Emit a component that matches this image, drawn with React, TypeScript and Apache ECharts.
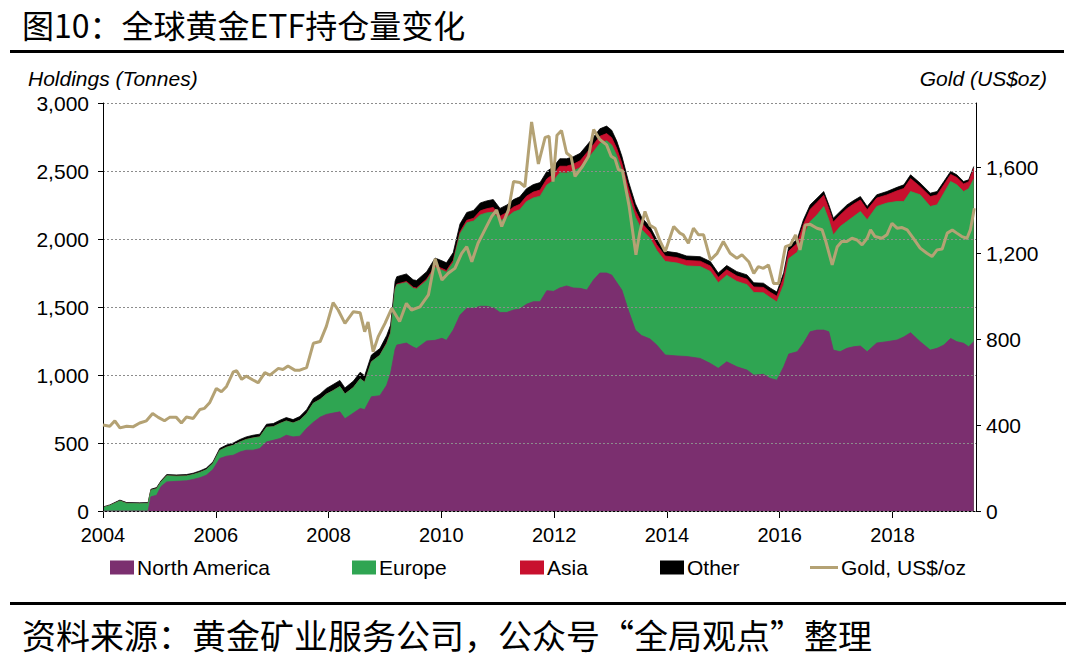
import React, { useEffect, useRef } from "react";
import * as echarts from "echarts";

// Stacked holdings (tonnes), sampled along decimal years
const years = [
  2004.00, 2004.12, 2004.30, 2004.42, 2004.65, 2004.80, 2004.85, 2004.95, 2005.03, 2005.13,
  2005.30, 2005.48, 2005.60, 2005.72, 2005.83, 2005.95, 2006.07, 2006.19, 2006.31, 2006.43,
  2006.54, 2006.66, 2006.78, 2006.90, 2007.02, 2007.14, 2007.25, 2007.37, 2007.49, 2007.61,
  2007.73, 2007.85, 2007.96, 2008.08, 2008.20, 2008.29, 2008.44, 2008.56, 2008.64, 2008.76,
  2008.91, 2009.03, 2009.10, 2009.18, 2009.21, 2009.38, 2009.50, 2009.56, 2009.74, 2009.89,
  2010.01, 2010.09, 2010.21, 2010.33, 2010.45, 2010.57, 2010.69, 2010.80, 2010.92, 2011.04,
  2011.16, 2011.28, 2011.39, 2011.51, 2011.63, 2011.75, 2011.87, 2011.99, 2012.10, 2012.22,
  2012.34, 2012.46, 2012.58, 2012.70, 2012.81, 2012.93, 2013.02, 2013.11, 2013.20, 2013.32,
  2013.44, 2013.55, 2013.70, 2013.82, 2013.97, 2014.18, 2014.35, 2014.59, 2014.77, 2014.91,
  2015.06, 2015.24, 2015.42, 2015.54, 2015.71, 2015.83, 2015.95, 2016.07, 2016.16, 2016.31,
  2016.42, 2016.54, 2016.66, 2016.78, 2016.87, 2016.95, 2017.07, 2017.19, 2017.31, 2017.43,
  2017.55, 2017.72, 2017.90, 2018.08, 2018.20, 2018.32, 2018.49, 2018.67, 2018.79, 2018.91,
  2019.03, 2019.14, 2019.26, 2019.35, 2019.44,
];

const northAmerica = [
  0, 0, 0, 0, 0, 0, 105, 115, 180, 214,
  218, 222, 232, 245, 262, 305, 386, 403, 410, 434,
  447, 447, 459, 508, 520, 533, 557, 545, 550, 607,
  652, 690, 710, 720, 729, 678, 720, 754, 746, 840,
  848, 925, 1012, 1190, 1220, 1235, 1205, 1195, 1250, 1255,
  1270, 1255, 1330, 1440, 1490, 1490, 1505, 1505, 1495, 1460,
  1460, 1478, 1485, 1520, 1539, 1539, 1620, 1615, 1640, 1655,
  1640, 1637, 1625, 1700, 1750, 1750, 1735, 1680, 1625, 1470,
  1330, 1290, 1265, 1220, 1147, 1140, 1136, 1122, 1085, 1049,
  1097, 1060, 1036, 999, 1005, 975, 962, 1060, 1154, 1171,
  1233, 1318, 1330, 1330, 1318, 1183, 1171, 1196, 1208, 1213,
  1171, 1235, 1245, 1257, 1280, 1311, 1245, 1183, 1196, 1220,
  1269, 1245, 1233, 1208, 1245,
];

const europe = [
  25, 40, 74, 56, 54, 56, 48, 49, 34, 45,
  38, 36, 36, 39, 41, 44, 59, 66, 73, 74,
  79, 90, 86, 108, 100, 111, 105, 102, 117, 108,
  141, 130, 149, 165, 186, 182, 188, 218, 201, 257,
  297, 305, 295, 440, 443, 445, 432, 437, 445, 536,
  501, 500, 498, 597, 629, 642, 672, 687, 702, 673,
  699, 720, 730, 755, 763, 776, 777, 816, 847, 830,
  860, 888, 958, 943, 952, 972, 957, 932, 880, 848,
  830, 780, 740, 695, 688, 683, 666, 675, 676, 629,
  636, 628, 628, 608, 599, 594, 575, 605, 702, 732,
  788, 810, 847, 909, 823, 847, 920, 932, 957, 989,
  970, 1004, 1019, 1019, 996, 1038, 1080, 1056, 1055, 1117,
  1154, 1153, 1116, 1162, 1195,
];

const asia = [
  0, 0, 0, 0, 0, 0, 0, 0, 0, 0,
  0, 0, 0, 0, 0, 0, 0, 0, 0, 0,
  0, 0, 0, 0, 0, 0, 0, 0, 0, 0,
  0, 0, 0, 0, 0, 0, 0, 0, 0, 0,
  0, 5, 5, 5, 5, 8, 8, 8, 10, 12,
  12, 13, 14, 15, 18, 20, 30, 30, 35, 35,
  35, 37, 40, 40, 43, 45, 45, 47, 48, 50,
  50, 50, 52, 52, 53, 53, 53, 53, 52, 50,
  50, 48, 45, 42, 40, 40, 40, 40, 40, 40,
  40, 40, 40, 40, 40, 40, 42, 55, 55, 65,
  85, 90, 92, 82, 82, 95, 85, 95, 92, 85,
  74, 62, 60, 78, 95, 95, 60, 73, 73, 62,
  52, 54, 56, 50, 80,
];

const other = [
  5, 5, 6, 6, 6, 6, 7, 8, 8, 9,
  9, 10, 10, 11, 12, 12, 15, 16, 17, 18,
  19, 20, 20, 22, 23, 24, 25, 25, 28, 30,
  35, 40, 42, 45, 45, 45, 47, 48, 48, 50,
  50, 55, 55, 55, 55, 55, 55, 55, 55, 57,
  57, 57, 58, 58, 58, 58, 58, 58, 58, 57,
  56, 55, 55, 55, 55, 55, 55, 55, 55, 55,
  55, 55, 55, 55, 55, 55, 55, 55, 53, 52,
  50, 42, 40, 38, 35, 35, 33, 33, 33, 32,
  32, 32, 32, 31, 31, 31, 31, 32, 33, 30,
  35, 33, 31, 28, 28, 28, 26, 27, 26, 25,
  24, 24, 25, 26, 27, 28, 26, 25, 25, 24,
  22, 20, 18, 15, 13,
];

// Gold price (US$/oz), right axis
const goldYears = [
  2004.00, 2004.12, 2004.21, 2004.30, 2004.42, 2004.53, 2004.65, 2004.77, 2004.88, 2004.98,
  2005.09, 2005.18, 2005.30, 2005.39, 2005.48, 2005.60, 2005.72, 2005.80, 2005.89, 2006.01,
  2006.10, 2006.19, 2006.31, 2006.37, 2006.46, 2006.54, 2006.66, 2006.75, 2006.87, 2006.96,
  2007.11, 2007.19, 2007.28, 2007.40, 2007.49, 2007.61, 2007.73, 2007.85, 2007.96, 2008.08,
  2008.17, 2008.29, 2008.44, 2008.56, 2008.64, 2008.70, 2008.79, 2008.88, 2009.00, 2009.12,
  2009.26, 2009.38, 2009.47, 2009.62, 2009.77, 2009.89, 2010.01, 2010.12, 2010.24, 2010.36,
  2010.45, 2010.54, 2010.65, 2010.77, 2010.89, 2010.98, 2011.07, 2011.19, 2011.28, 2011.39,
  2011.48, 2011.60, 2011.72, 2011.84, 2011.91, 2011.98, 2012.05, 2012.13, 2012.22, 2012.30,
  2012.37, 2012.49, 2012.61, 2012.70, 2012.81, 2012.93, 2013.01, 2013.08, 2013.14, 2013.21,
  2013.33, 2013.45, 2013.52, 2013.61, 2013.70, 2013.79, 2013.88, 2013.97, 2014.12, 2014.23,
  2014.29, 2014.38, 2014.47, 2014.56, 2014.65, 2014.77, 2014.89, 2015.00, 2015.12, 2015.24,
  2015.33, 2015.45, 2015.54, 2015.62, 2015.71, 2015.80, 2015.89, 2015.98, 2016.10, 2016.19,
  2016.28, 2016.36, 2016.45, 2016.54, 2016.66, 2016.75, 2016.81, 2016.93, 2017.02, 2017.10,
  2017.19, 2017.28, 2017.37, 2017.46, 2017.55, 2017.61, 2017.69, 2017.81, 2017.90, 2017.99,
  2018.08, 2018.17, 2018.26, 2018.37, 2018.49, 2018.61, 2018.70, 2018.79, 2018.88, 2018.97,
  2019.06, 2019.14, 2019.23, 2019.32, 2019.38, 2019.45,
];

const goldPrice = [
  400, 395, 420, 387, 395, 392, 410, 420, 454, 436,
  420, 436, 436, 410, 438, 431, 473, 478, 504, 571,
  555, 580, 648, 653, 613, 628, 610, 597, 644, 633,
  664, 659, 675, 656, 656, 668, 781, 789, 860, 970,
  936, 874, 928, 923, 835, 880, 742, 812, 874, 944,
  882, 967, 936, 951, 1006, 1175, 1076, 1107, 1130, 1200,
  1231, 1161, 1247, 1309, 1371, 1402, 1325, 1402, 1534, 1530,
  1510, 1812, 1616, 1740, 1745, 1534, 1750, 1772, 1667, 1650,
  1558, 1600, 1652, 1776, 1730, 1705, 1652, 1640, 1589, 1585,
  1418, 1193, 1300, 1395, 1330, 1317, 1255, 1208, 1325, 1294,
  1286, 1247, 1317, 1286, 1286, 1169, 1200, 1255, 1200, 1177,
  1193, 1161, 1107, 1138, 1130, 1146, 1060, 1060, 1231, 1239,
  1286, 1216, 1332, 1335, 1317, 1310, 1262, 1146, 1231, 1255,
  1255, 1270, 1262, 1239, 1270, 1309, 1278, 1270, 1286, 1340,
  1317, 1320, 1309, 1270, 1224, 1200, 1185, 1216, 1220, 1294,
  1309, 1294, 1278, 1270, 1309, 1410,
];

const xTicks = [2004, 2006, 2008, 2010, 2012, 2014, 2016, 2018];
const rightTicks = [0, 400, 800, 1200, 1600];

const TITLE = "图10：全球黄金ETF持仓量变化";
const SOURCE = "资料来源：黄金矿业服务公司，公众号“全局观点”整理";

const COLORS = {
  na: "#7B2F6F",
  eu: "#2FA552",
  asia: "#C8102E",
  other: "#000000",
  gold: "#B4A274",
};

const LATIN = "'Liberation Sans', Arial, sans-serif";
const CJK = "'Noto Sans CJK SC', sans-serif";

const fmt = (v: number) => Math.round(v).toLocaleString("en-US");

export default function App() {
  const ref = useRef<HTMLDivElement>(null);

  useEffect(() => {
    if (!ref.current) return;
    const chart = echarts.init(ref.current, null, { renderer: "svg" });

    // Stacking on a value x-axis is done here: each band is drawn as the
    // cumulative total up to that layer, upper layers first, lower on top.
    const layers = [
      { name: "North America", values: northAmerica, color: COLORS.na },
      { name: "Europe", values: europe, color: COLORS.eu },
      { name: "Asia", values: asia, color: COLORS.asia },
      { name: "Other", values: other, color: COLORS.other },
    ];
    const running = years.map(() => 0);
    const cumulative = layers.map((l) => {
      l.values.forEach((v, i) => (running[i] += v));
      return running.slice();
    });

    const areaSeries = layers.map((l, k) => ({
      name: l.name,
      type: "line",
      data: years.map((x, i) => [x, cumulative[k][i]]),
      symbol: "none",
      lineStyle: { width: 0.8, color: l.color },
      itemStyle: { color: l.color },
      areaStyle: { color: l.color, opacity: 1, origin: "start" },
      z: 2 + (layers.length - k),
    }));

    const legendText = { fontSize: 21, color: "#000", fontFamily: LATIN };
    const legendItem = (name: string, left: number, extra: any = {}) => ({
      data: [{ name, icon: "rect" }],
      left,
      top: 557,
      padding: 0,
      itemWidth: 24,
      itemHeight: 14,
      itemGap: 0,
      textStyle: { ...legendText, padding: [0, 0, 0, -2] },
      selectedMode: false,
      ...extra,
    });

    chart.setOption({
      animation: false,
      backgroundColor: "#ffffff",
      grid: { left: 103, right: 104, top: 103, bottom: 152, containLabel: false },
      xAxis: {
        type: "value",
        min: 2004,
        max: 2019.48,
        interval: 2,
        axisLine: { show: true, onZero: false, lineStyle: { color: "#000", width: 1 } },
        axisTick: { show: true, customValues: xTicks, length: 7, lineStyle: { color: "#000" } },
        axisLabel: {
          customValues: xTicks,
          formatter: (v: number) => String(Math.round(v)),
          fontSize: 20,
          color: "#000",
          fontFamily: LATIN,
          margin: 14,
        },
        splitLine: { show: false },
      },
      yAxis: [
        {
          type: "value",
          min: 0,
          max: 3000,
          interval: 500,
          axisLine: { show: true, lineStyle: { color: "#000", width: 1 } },
          axisTick: { show: true, length: 5, lineStyle: { color: "#000" } },
          axisLabel: {
            formatter: fmt,
            fontSize: 21,
            color: "#000",
            fontFamily: LATIN,
            margin: 14,
          },
          splitLine: { show: true, lineStyle: { color: "#8c8c8c", width: 1, type: [2, 2] } },
          z: 10,
        },
        {
          type: "value",
          min: 0,
          max: 1900,
          interval: 400,
          position: "right",
          axisLine: { show: true, lineStyle: { color: "#000", width: 1 } },
          axisTick: { show: true, customValues: rightTicks, length: 5, lineStyle: { color: "#000" } },
          axisLabel: {
            customValues: rightTicks,
            formatter: fmt,
            fontSize: 21,
            color: "#000",
            fontFamily: LATIN,
            margin: 10,
          },
          splitLine: { show: false },
        },
      ],
      legend: [
        legendItem("North America", 110),
        legendItem("Europe", 352),
        legendItem("Asia", 520),
        legendItem("Other", 660),
        legendItem("Gold, US$/oz", 810, { itemWidth: 28, itemHeight: 3 }),
      ],
      series: [
        ...areaSeries,
        {
          name: "Gold, US$/oz",
          type: "line",
          yAxisIndex: 1,
          data: goldYears.map((x, i) => [x, goldPrice[i]]),
          symbol: "none",
          lineStyle: { color: COLORS.gold, width: 3 },
          itemStyle: { color: COLORS.gold },
          z: 10,
        },
      ],
      graphic: [
        {
          type: "text",
          x: 22,
          y: 24,
          style: { text: TITLE, fontSize: 32, fontFamily: CJK, fill: "#000", verticalAlign: "middle", align: "left" },
        },
        { type: "rect", shape: { x: 10, y: 50, width: 1054, height: 3 }, style: { fill: "#000" } },
        {
          type: "text",
          x: 28,
          y: 78,
          style: {
            text: "Holdings (Tonnes)",
            fontSize: 21,
            fontStyle: "italic",
            fontFamily: LATIN,
            fill: "#000",
            verticalAlign: "middle",
            align: "left",
          },
        },
        {
          type: "text",
          x: 1047,
          y: 78,
          style: {
            text: "Gold (US$oz)",
            fontSize: 21,
            fontStyle: "italic",
            fontFamily: LATIN,
            fill: "#000",
            verticalAlign: "middle",
            align: "right",
          },
        },
        { type: "rect", shape: { x: 10, y: 602, width: 1056, height: 3 }, style: { fill: "#000" } },
        {
          type: "text",
          x: 22,
          y: 634,
          style: { text: SOURCE, fontSize: 34, fontFamily: CJK, fill: "#000", verticalAlign: "middle", align: "left" },
        },
      ],
    });

    return () => chart.dispose();
  }, []);

  return (
    <div
      ref={ref}
      style={{ position: "absolute", left: 0, top: 0, width: 1080, height: 663, background: "#fff" }}
    />
  );
}
